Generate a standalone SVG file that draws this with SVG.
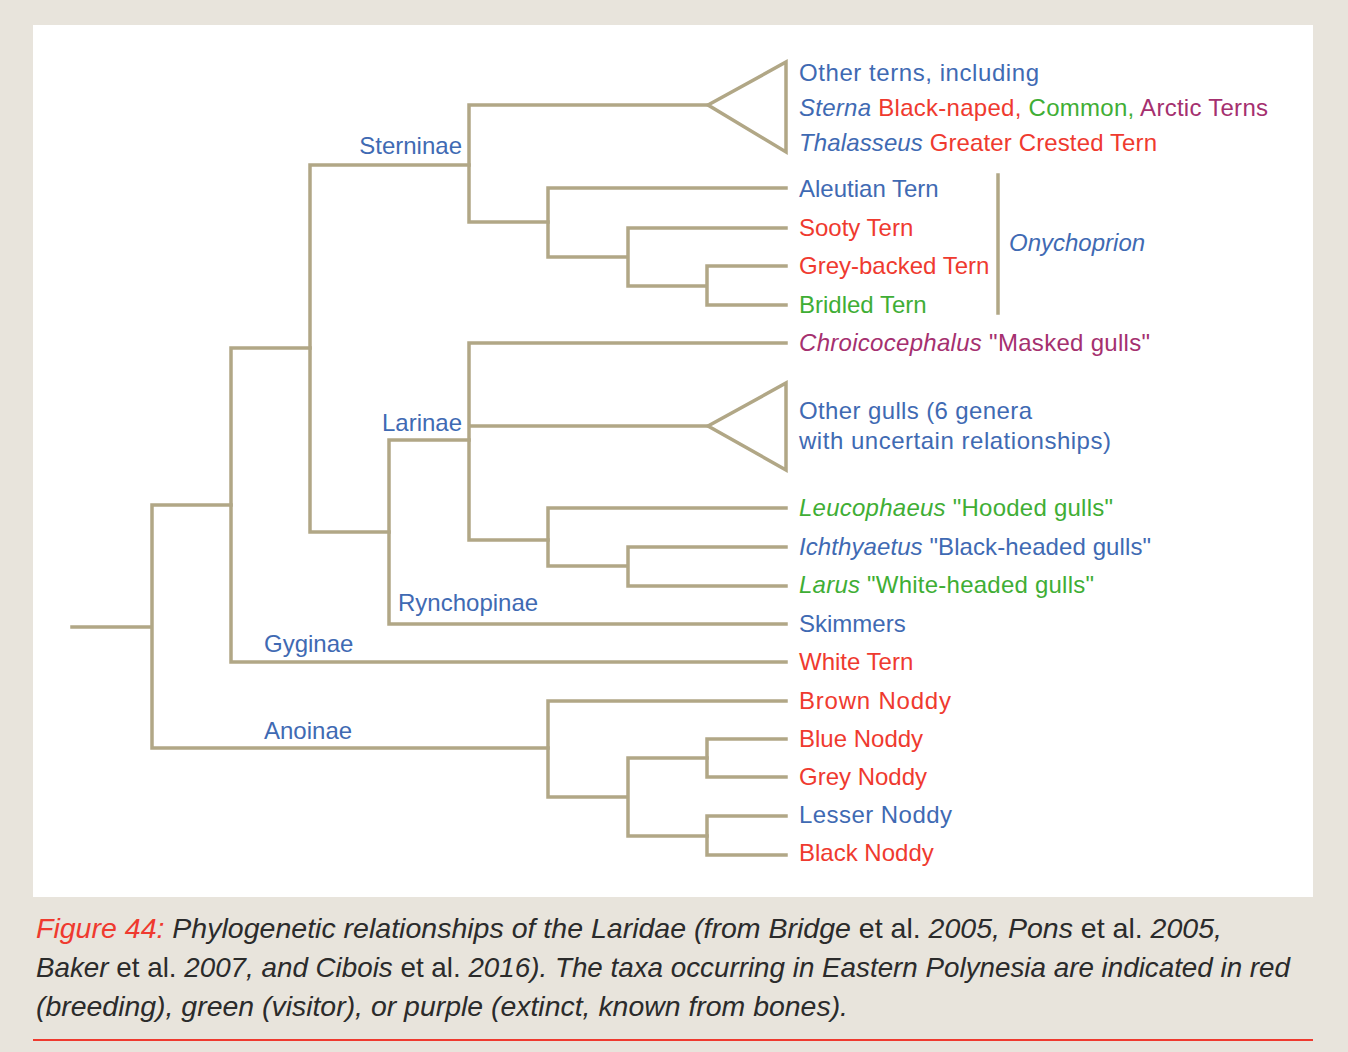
<svg xmlns="http://www.w3.org/2000/svg" width="1348" height="1052" viewBox="0 0 1348 1052">
<style>
.ln{fill:none;stroke:#b1a786;stroke-width:3.5;stroke-linecap:square;stroke-linejoin:miter}
.t{font-family:"Liberation Sans",Arial,sans-serif;font-size:24px}
.b{fill:#3f6ab3}.r{fill:#ef3a2f}.g{fill:#3fae35}.p{fill:#a5306f}
.i{font-style:italic}
.cap{font-family:"Liberation Sans",Arial,sans-serif;font-size:28px;font-style:italic;fill:#2b2b2b}
.up{font-style:normal}
</style>
<rect x="0" y="0" width="1348" height="1052" fill="#e8e4dc"/>
<rect x="33" y="25" width="1280" height="872" fill="#ffffff"/>
<g id="connectors">
<path class="ln" d="M72 627H152M152 505V748M152 505H231M152 748H548"/>
<path class="ln" d="M231 348V662M231 348H310M231 662H786"/>
<path class="ln" d="M310 165V532M310 165H469M310 532H389"/>
<path class="ln" d="M469 105V222M469 105H708M469 222H548"/>
<path class="ln" d="M548 188V257M548 188H786M548 257H628M628 228V286M628 228H786M628 286H707M707 266V305M707 266H786M707 305H786"/>
<path class="ln" d="M389 440V624M389 440H469M389 624H786"/>
<path class="ln" d="M469 343V540M469 343H786M469 426H708M469 540H548"/>
<path class="ln" d="M548 508V566M548 508H786M548 566H628M628 547V586M628 547H786M628 586H786"/>
<path class="ln" d="M548 701V797M548 701H786M548 797H628M628 758V836M628 758H707M628 836H707"/>
<path class="ln" d="M707 739V777M707 739H786M707 777H786M707 816V855M707 816H786M707 855H786"/>
<path class="ln" d="M998 175V313"/>
</g>
<g id="clade-other-terns">
<path class="ln" d="M708 105L786 62V152Z"/>
<text class="t b" x="799" y="81" textLength="240">Other terns, including</text>
<text class="t" x="799" y="116" textLength="469"><tspan class="b i">Sterna</tspan><tspan class="r"> Black-naped,</tspan><tspan class="g"> Common,</tspan><tspan class="p"> Arctic Terns</tspan></text>
<text class="t" x="799" y="151" textLength="358"><tspan class="b i">Thalasseus</tspan><tspan class="r"> Greater Crested Tern</tspan></text>
</g>
<g id="leaf-aleutian"><text class="t b" x="799" y="197">Aleutian Tern</text></g>
<g id="leaf-sooty"><text class="t r" x="799" y="236">Sooty Tern</text></g>
<g id="leaf-greybacked"><text class="t r" x="799" y="274">Grey-backed Tern</text></g>
<g id="leaf-bridled"><text class="t g" x="799" y="313">Bridled Tern</text></g>
<g id="label-onychoprion"><text class="t b i" x="1009" y="251">Onychoprion</text></g>
<g id="leaf-chroicocephalus"><text class="t p" x="799" y="351" textLength="351"><tspan class="i">Chroicocephalus</tspan> "Masked gulls"</text></g>
<g id="clade-other-gulls">
<path class="ln" d="M708 426L786 383V470Z"/>
<text class="t b" x="799" y="419" textLength="233">Other gulls (6 genera</text>
<text class="t b" x="799" y="449" textLength="312">with uncertain relationships)</text>
</g>
<g id="leaf-leucophaeus"><text class="t g" x="799" y="516" textLength="314"><tspan class="i">Leucophaeus</tspan> "Hooded gulls"</text></g>
<g id="leaf-ichthyaetus"><text class="t b" x="799" y="555" textLength="352"><tspan class="i">Ichthyaetus</tspan> "Black-headed gulls"</text></g>
<g id="leaf-larus"><text class="t g" x="799" y="593" textLength="295"><tspan class="i">Larus</tspan> "White-headed gulls"</text></g>
<g id="leaf-skimmers"><text class="t b" x="799" y="632">Skimmers</text></g>
<g id="leaf-whitetern"><text class="t r" x="799" y="670">White Tern</text></g>
<g id="leaf-brown-noddy"><text class="t r" x="799" y="709" textLength="152">Brown Noddy</text></g>
<g id="leaf-blue-noddy"><text class="t r" x="799" y="747">Blue Noddy</text></g>
<g id="leaf-grey-noddy"><text class="t r" x="799" y="785">Grey Noddy</text></g>
<g id="leaf-lesser-noddy"><text class="t b" x="799" y="823" textLength="153">Lesser Noddy</text></g>
<g id="leaf-black-noddy"><text class="t r" x="799" y="861">Black Noddy</text></g>
<g id="subfamily-labels">
<text class="t b" x="462" y="154" text-anchor="end">Sterninae</text>
<text class="t b" x="462" y="431" text-anchor="end">Larinae</text>
<text class="t b" x="398" y="611">Rynchopinae</text>
<text class="t b" x="264" y="652">Gyginae</text>
<text class="t b" x="264" y="739">Anoinae</text>
</g>
<g id="caption">
<text class="cap" x="36" y="938" textLength="1186" lengthAdjust="spacingAndGlyphs"><tspan fill="#ef3a2f">Figure 44:</tspan> Phylogenetic relationships of the Laridae (from Bridge<tspan class="up"> et al.</tspan> 2005, Pons<tspan class="up"> et al.</tspan> 2005,</text>
<text class="cap" x="36" y="977" textLength="1254" lengthAdjust="spacingAndGlyphs">Baker<tspan class="up"> et al.</tspan> 2007, and Cibois<tspan class="up"> et al.</tspan> 2016). The taxa occurring in Eastern Polynesia are indicated in red</text>
<text class="cap" x="36" y="1016" textLength="812" lengthAdjust="spacingAndGlyphs">(breeding), green (visitor), or purple (extinct, known from bones).</text>
<line x1="33" y1="1040" x2="1313" y2="1040" stroke="#ef3a2f" stroke-width="2"/>
</g>
</svg>
